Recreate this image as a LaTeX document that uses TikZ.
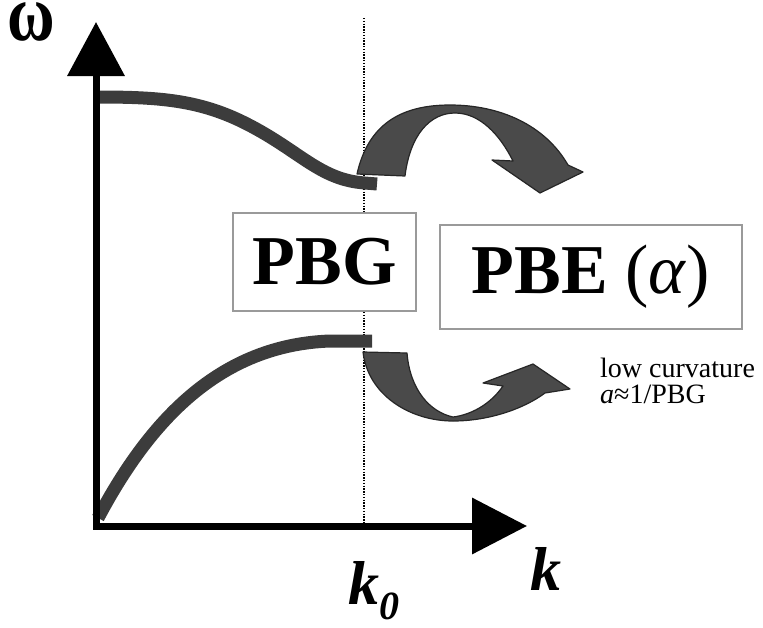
\documentclass[tikz,border=0pt]{standalone}
\usepackage{fontspec}
\setmainfont{Liberation Serif}
\usetikzlibrary{arrows.meta}
\definecolor{bandgray}{HTML}{4A4A4A}
\definecolor{boxgray}{HTML}{9A9A9A}
\definecolor{curvegray}{HTML}{3C3C3C}

\begin{document}
\begin{tikzpicture}[x=1pt,y=-1pt,
    axis/.style={line width=7pt,{Triangle[length=54pt,width=56pt]}-{Triangle[length=55pt,width=55pt]}},
    band/.style={line width=13pt,curvegray},
    bendarrow/.style={fill=bandgray,draw=black!85,line width=1.2pt,line join=round},
    gapbox/.style={draw=boxgray,line width=1.6pt,fill=white,inner sep=0pt,font=\fontsize{70}{70}\selectfont},
    lbl/.style={anchor=base west,inner sep=0pt}]
  \useasboundingbox (0,0) rectangle (763,627);
  \coordinate (O) at (96,526);
  \coordinate (ytip) at (96,22);
  \coordinate (xtip) at (527,526);
  \coordinate (k0top) at (364,18);
  \coordinate (k0bot) at (364,526);
  % dotted line at k_0
  \draw[dash pattern=on 1.4pt off 1.4pt,line width=1.3pt] (k0top) -- (k0bot);
  % gap boxes
  \node[gapbox,minimum width=183pt,minimum height=98pt] (pbg) at (324.5,262) {\bfseries PBG};
  \node[gapbox,minimum width=302pt,minimum height=104pt] (pbe) at (591,277) {\bfseries PBE \mdseries(\textit{α})};
  % bands
  \draw[band] (97,97) .. controls (160,97) and (200,100) .. (247,124)
    .. controls (300,151) and (320,180) .. (365,183) -- (377,184);
  \draw[band] (98,518) .. controls (150,420) and (220,345) .. (330,341) -- (372,341);
  % bent arrows
  \filldraw[bendarrow] (357,174) .. controls (368,125) and (400,105) .. (450,105)
    .. controls (500,105) and (545,125) .. (568,165) -- (583,172) -- (540,193) -- (492,160) -- (513,161)
    .. controls (500,135) and (480,113) .. (455,113) .. controls (430,113) and (410,135) .. (405,176) -- cycle;
  \filldraw[bendarrow] (363,352) .. controls (368,395) and (410,421) .. (453,421)
    .. controls (490,421) and (525,408) .. (545,393) -- (570,389) -- (533,364) -- (483,383) -- (503,386)
    .. controls (490,405) and (470,415) .. (453,417) .. controls (430,412) and (410,390) .. (407,353) -- cycle;
  % axes
  \draw[axis] (ytip) -- (O) -- (xtip);
  \node[lbl,font=\fontsize{62}{62}\selectfont\bfseries] (omega) at (7,40) {\scalebox{1.05}[1.3]{ω}};
  \node[lbl,font=\fontsize{62}{62}\selectfont\bfseries\itshape] (klabel) at (530,590) {k};
  \node[lbl,font=\fontsize{62}{62}\selectfont\bfseries\itshape] (kzero) at (348,604) {k\raisebox{-15pt}{\fontsize{40}{40}\selectfont 0}};
  \node[anchor=north west,inner sep=0pt,align=left,font=\fontsize{28}{26}\selectfont] (note) at (600,358) {low curvature\\\textit{a}≈1/PBG};
\end{tikzpicture}
\end{document}
